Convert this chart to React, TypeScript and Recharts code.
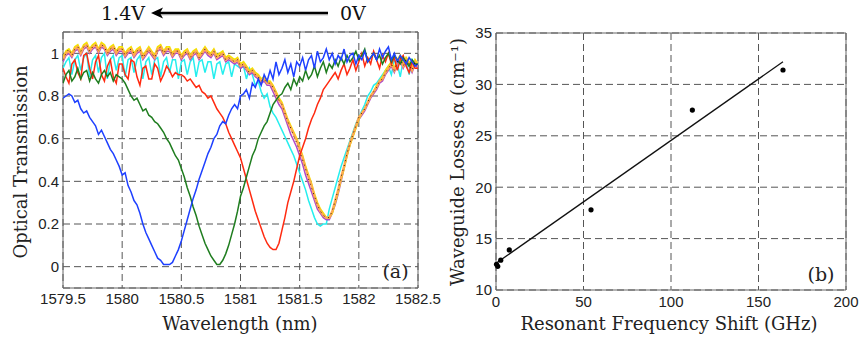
import React from 'react';
import {
  LineChart, Line, XAxis, YAxis, CartesianGrid, ReferenceArea,
  ScatterChart, Scatter,
} from 'recharts';

// ---------- Panel (a): optical transmission spectra ----------
const wavelength = [
  1579.5, 1579.525, 1579.55, 1579.575, 1579.6, 1579.625, 1579.65, 1579.675, 1579.7, 1579.725,
  1579.75, 1579.775, 1579.8, 1579.825, 1579.85, 1579.875, 1579.9, 1579.925, 1579.95, 1579.975,
  1580.0, 1580.025, 1580.05, 1580.075, 1580.1, 1580.125, 1580.15, 1580.175, 1580.2, 1580.225,
  1580.25, 1580.275, 1580.3, 1580.325, 1580.35, 1580.375, 1580.4, 1580.425, 1580.45, 1580.475,
  1580.5, 1580.525, 1580.55, 1580.575, 1580.6, 1580.625, 1580.65, 1580.675, 1580.7, 1580.725,
  1580.75, 1580.775, 1580.8, 1580.825, 1580.85, 1580.875, 1580.9, 1580.925, 1580.95, 1580.975,
  1581.0, 1581.025, 1581.05, 1581.075, 1581.1, 1581.125, 1581.15, 1581.175, 1581.2, 1581.225,
  1581.25, 1581.275, 1581.3, 1581.325, 1581.35, 1581.375, 1581.4, 1581.425, 1581.45, 1581.475,
  1581.5, 1581.525, 1581.55, 1581.575, 1581.6, 1581.625, 1581.65, 1581.675, 1581.7, 1581.725,
  1581.75, 1581.775, 1581.8, 1581.825, 1581.85, 1581.875, 1581.9, 1581.925, 1581.95, 1581.975,
  1582.0, 1582.025, 1582.05, 1582.075, 1582.1, 1582.125, 1582.15, 1582.175, 1582.2, 1582.225,
  1582.25, 1582.275, 1582.3, 1582.325, 1582.35, 1582.375, 1582.4, 1582.425, 1582.45, 1582.475,
  1582.5,
];

const blueT = [
  0.79, 0.80, 0.81, 0.80, 0.77, 0.78, 0.74, 0.72, 0.73, 0.70,
  0.68, 0.66, 0.62, 0.64, 0.61, 0.58, 0.55, 0.53, 0.50, 0.47,
  0.43, 0.44, 0.38, 0.35, 0.31, 0.29, 0.25, 0.20, 0.16, 0.13,
  0.10, 0.07, 0.04, 0.03, 0.01, 0.01, 0.01, 0.02, 0.05, 0.08,
  0.12, 0.17, 0.22, 0.27, 0.32, 0.36, 0.41, 0.45, 0.49, 0.53,
  0.56, 0.60, 0.62, 0.66, 0.68, 0.67, 0.71, 0.74, 0.76, 0.74,
  0.80, 0.81, 0.83, 0.79, 0.86, 0.84, 0.88, 0.85, 0.90, 0.87,
  0.92, 0.88, 0.96, 0.90, 0.93, 0.97, 0.91, 0.95, 0.89, 0.96,
  0.94, 0.98, 0.92, 0.97, 0.99, 0.93, 1.01, 0.96, 0.98, 1.02,
  0.97, 1.00, 0.95, 0.99, 0.97, 1.02, 0.96, 0.99, 1.00, 0.95,
  0.99, 0.97, 1.01, 0.96, 0.98, 1.00, 0.97, 1.02, 0.98, 1.01,
  1.03, 0.97, 1.00, 0.96, 0.99, 0.97, 0.95, 0.98, 0.96, 0.94,
  0.95,
];

const greenT = [
  0.86, 0.90, 0.92, 0.87, 0.89, 0.93, 0.88, 0.91, 0.92, 0.87,
  0.91, 0.88, 0.86, 0.90, 0.92, 0.89, 0.91, 0.87, 0.90, 0.89,
  0.88, 0.86, 0.83, 0.80, 0.78, 0.79, 0.76, 0.73, 0.74, 0.71,
  0.70, 0.68, 0.67, 0.65, 0.63, 0.60, 0.58, 0.55, 0.52, 0.50,
  0.46, 0.42, 0.37, 0.33, 0.28, 0.24, 0.19, 0.15, 0.11, 0.08,
  0.05, 0.03, 0.01, 0.01, 0.03, 0.06, 0.10, 0.15, 0.20, 0.26,
  0.33, 0.37, 0.42, 0.47, 0.52, 0.55, 0.60, 0.63, 0.66, 0.68,
  0.72, 0.76, 0.78, 0.80, 0.81, 0.84, 0.86, 0.83, 0.88, 0.85,
  0.89, 0.87, 0.92, 0.88, 0.90, 0.94, 0.89, 0.93, 0.96, 0.91,
  0.95, 0.93, 0.97, 0.94, 0.98, 0.95, 0.99, 0.96, 0.98, 1.01,
  0.97, 0.99, 1.02, 0.96, 0.98, 1.00, 0.97, 0.99, 0.95, 0.98,
  1.00, 0.96, 0.99, 0.97, 0.95, 0.98, 0.96, 0.94, 0.97, 0.95,
  0.95,
];

const redT = [
  0.93, 0.89, 0.86, 0.95, 0.97, 0.91, 0.88, 0.99, 1.00, 0.93,
  0.88, 0.96, 0.99, 0.90, 0.87, 0.94, 0.97, 0.89, 0.86, 0.95,
  0.95, 0.90, 0.88, 0.97, 0.96, 0.89, 0.85, 0.93, 0.94, 0.88,
  0.88, 0.95, 0.93, 0.87, 0.90, 0.94, 0.92, 0.89, 0.91, 0.90,
  0.90, 0.89, 0.87, 0.88, 0.86, 0.84, 0.85, 0.82, 0.81, 0.79,
  0.80, 0.77, 0.74, 0.72, 0.70, 0.67, 0.63, 0.60, 0.57, 0.54,
  0.51, 0.46, 0.41, 0.36, 0.31, 0.26, 0.22, 0.18, 0.14, 0.11,
  0.09, 0.08, 0.08, 0.11, 0.17, 0.23, 0.30, 0.35, 0.40, 0.46,
  0.52, 0.56, 0.60, 0.65, 0.69, 0.72, 0.76, 0.79, 0.83, 0.85,
  0.87, 0.89, 0.91, 0.88, 0.92, 0.95, 0.90, 0.93, 0.97, 0.92,
  0.96, 1.00, 0.94, 0.98, 0.95, 1.01, 0.97, 0.93, 0.99, 0.96,
  1.00, 0.95, 0.98, 0.92, 0.97, 0.99, 0.94, 0.91, 0.96, 0.93,
  0.93,
];

const cyanT = [
  0.93, 0.96, 0.98, 0.90, 0.97, 0.99, 0.92, 0.98, 1.00, 0.89,
  0.97, 0.99, 0.91, 0.98, 1.00, 0.88, 0.97, 0.99, 0.92, 0.98,
  0.99, 0.89, 0.97, 0.98, 0.91, 0.97, 0.99, 0.88, 0.96, 0.98,
  0.90, 0.97, 0.98, 0.89, 0.96, 0.98, 0.91, 0.97, 0.97, 0.88,
  0.96, 0.97, 0.90, 0.96, 0.98, 0.89, 0.96, 0.97, 0.91, 0.96,
  0.96, 0.88, 0.95, 0.96, 0.90, 0.95, 0.96, 0.89, 0.95, 0.94,
  0.93, 0.94, 0.88, 0.93, 0.90, 0.85, 0.87, 0.82, 0.79, 0.81,
  0.75, 0.72, 0.70, 0.67, 0.64, 0.61, 0.58, 0.55, 0.52, 0.48,
  0.44, 0.40, 0.36, 0.31, 0.27, 0.23, 0.20, 0.19, 0.20, 0.20,
  0.27, 0.32, 0.37, 0.42, 0.47, 0.51, 0.55, 0.59, 0.63, 0.67,
  0.70, 0.73, 0.76, 0.80, 0.82, 0.85, 0.86, 0.88, 0.90, 0.92,
  0.94, 0.90, 0.97, 0.95, 0.89, 0.97, 0.96, 0.90, 0.97, 0.95,
  0.93,
];

const purpleT = [
  0.96, 0.99, 1.00, 0.98, 1.01, 1.02, 0.99, 1.02, 1.03, 1.00,
  1.02, 1.03, 1.00, 1.03, 1.02, 0.99, 1.01, 1.02, 0.99, 1.01,
  1.01, 0.98, 1.00, 1.01, 0.98, 1.00, 1.01, 0.97, 0.99, 1.01,
  0.99, 0.97, 1.01, 1.02, 0.99, 1.01, 1.01, 0.98, 1.00, 1.00,
  0.97, 0.99, 1.00, 0.97, 0.99, 1.00, 0.97, 0.99, 1.01, 0.99,
  0.98, 1.00, 0.97, 0.98, 0.99, 0.96, 0.97, 0.96, 0.95, 0.96,
  0.93, 0.94, 0.92, 0.90, 0.91, 0.89, 0.88, 0.86, 0.87, 0.85,
  0.85, 0.82, 0.79, 0.76, 0.74, 0.70, 0.66, 0.62, 0.59, 0.56,
  0.52, 0.48, 0.43, 0.39, 0.35, 0.31, 0.27, 0.25, 0.23, 0.22,
  0.22, 0.25, 0.29, 0.34, 0.40, 0.46, 0.52, 0.57, 0.61, 0.65,
  0.69, 0.71, 0.73, 0.76, 0.79, 0.81, 0.83, 0.86, 0.87, 0.90,
  0.92, 0.94, 0.91, 0.95, 0.97, 0.93, 0.96, 0.94, 0.91, 0.95,
  0.93,
];

const yellowT = [
  0.98, 1.01, 1.02, 1.00, 1.03, 1.04, 1.01, 1.04, 1.05, 1.02,
  1.04, 1.05, 1.02, 1.05, 1.04, 1.01, 1.03, 1.04, 1.01, 1.03,
  1.03, 1.00, 1.02, 1.03, 1.00, 1.02, 1.03, 0.99, 1.01, 1.03,
  1.01, 0.99, 1.03, 1.04, 1.01, 1.03, 1.03, 1.00, 1.02, 1.02,
  0.99, 1.01, 1.02, 0.99, 1.01, 1.02, 0.99, 1.01, 1.03, 1.01,
  1.00, 1.02, 0.99, 1.00, 1.01, 0.98, 0.99, 0.98, 0.97, 0.98,
  0.95, 0.96, 0.94, 0.92, 0.93, 0.91, 0.90, 0.88, 0.89, 0.87,
  0.87, 0.85, 0.82, 0.79, 0.77, 0.73, 0.69, 0.66, 0.63, 0.60,
  0.56, 0.52, 0.47, 0.43, 0.39, 0.34, 0.30, 0.27, 0.25, 0.23,
  0.23, 0.25, 0.30, 0.35, 0.41, 0.46, 0.52, 0.57, 0.61, 0.65,
  0.69, 0.72, 0.74, 0.77, 0.80, 0.82, 0.85, 0.87, 0.89, 0.92,
  0.94, 0.96, 0.93, 0.97, 0.99, 0.95, 0.98, 0.96, 0.93, 0.97,
  0.95,
];

const orangeT = [
  0.97, 1.00, 1.01, 0.99, 1.02, 1.03, 1.00, 1.03, 1.04, 1.01,
  1.03, 1.04, 1.01, 1.04, 1.03, 1.00, 1.02, 1.03, 1.00, 1.02,
  1.02, 0.99, 1.01, 1.02, 0.99, 1.01, 1.02, 0.98, 1.00, 1.02,
  1.00, 0.98, 1.02, 1.03, 1.00, 1.02, 1.02, 0.99, 1.01, 1.01,
  0.98, 1.00, 1.01, 0.98, 1.00, 1.01, 0.98, 1.00, 1.02, 1.00,
  0.99, 1.01, 0.98, 0.99, 1.00, 0.97, 0.98, 0.97, 0.96, 0.97,
  0.94, 0.95, 0.93, 0.91, 0.92, 0.90, 0.89, 0.87, 0.88, 0.86,
  0.86, 0.84, 0.81, 0.78, 0.76, 0.72, 0.68, 0.65, 0.62, 0.59,
  0.55, 0.51, 0.46, 0.42, 0.38, 0.33, 0.29, 0.26, 0.24, 0.23,
  0.23, 0.26, 0.31, 0.36, 0.42, 0.47, 0.53, 0.58, 0.62, 0.66,
  0.70, 0.72, 0.74, 0.77, 0.80, 0.82, 0.84, 0.87, 0.88, 0.91,
  0.93, 0.95, 0.92, 0.96, 0.98, 0.94, 0.97, 0.95, 0.92, 0.96,
  0.94,
];

const blackT = [
  0.97, 1.00, 1.02, 0.99, 1.02, 1.03, 1.01, 1.03, 1.04, 1.01,
  1.03, 1.04, 1.01, 1.04, 1.03, 1.00, 1.02, 1.03, 1.01, 1.02,
  1.02, 0.99, 1.01, 1.02, 1.00, 1.01, 1.02, 0.98, 1.00, 1.02,
  1.00, 0.98, 1.02, 1.03, 1.00, 1.02, 1.02, 0.99, 1.01, 1.01,
  0.98, 1.00, 1.01, 0.98, 1.00, 1.01, 0.98, 1.00, 1.02, 1.00,
  0.99, 1.01, 0.98, 0.99, 1.00, 0.97, 0.98, 0.97, 0.96, 0.97,
  0.94, 0.95, 0.93, 0.91, 0.92, 0.90, 0.89, 0.87, 0.88, 0.86,
  0.86, 0.84, 0.81, 0.78, 0.76, 0.72, 0.68, 0.65, 0.61, 0.58,
  0.54, 0.50, 0.46, 0.41, 0.37, 0.33, 0.29, 0.26, 0.24, 0.23,
  0.23, 0.26, 0.31, 0.36, 0.42, 0.47, 0.53, 0.58, 0.62, 0.66,
  0.70, 0.72, 0.74, 0.77, 0.80, 0.82, 0.84, 0.87, 0.88, 0.91,
  0.93, 0.95, 0.92, 0.96, 0.98, 0.94, 0.97, 0.95, 0.92, 0.96,
  0.94,
];

const xTicksA = [1579.5, 1580, 1580.5, 1581, 1581.5, 1582, 1582.5];
const yTicksA = [0, 0.2, 0.4, 0.6, 0.8, 1];

// ---------- Panel (b): losses vs frequency shift ----------
const shiftGHz = [0.3, 1.0, 2.7, 7.6, 54.3, 112.2, 164.0];
const lossesAlpha = [12.5, 12.3, 12.9, 13.9, 17.8, 27.5, 31.4];
const fitShift = [0, 164];
const fitAlpha = [12.6, 32.2];

const xTicksB = [0, 50, 100, 150, 200];
const yTicksB = [10, 15, 20, 25, 30, 35];

const spectra = wavelength.map((w, i) => ({
  w,
  blue: blueT[i],
  green: greenT[i],
  red: redT[i],
  cyan: cyanT[i],
  purple: purpleT[i],
  yellow: yellowT[i],
  orange: orangeT[i],
  black: blackT[i],
}));

const points = shiftGHz.map((x, i) => ({ x, y: lossesAlpha[i] }));
const fit = fitShift.map((x, i) => ({ x, y: fitAlpha[i] }));

const tickFont = { fontFamily: '"Liberation Sans", Arial, sans-serif', fontSize: 15, fill: '#222' };
const labelFont = '"DejaVu Serif", serif';

const seriesA = [
  { key: 'cyan', color: '#25eeee', w: 1.5 },
  { key: 'purple', color: '#b048c8', w: 1.5 },
  { key: 'yellow', color: '#f4e200', w: 1.8 },
  { key: 'orange', color: '#ffa850', w: 2.2 },
  { key: 'red', color: '#ff2a10', w: 1.5 },
  { key: 'green', color: '#1f7d1f', w: 1.5 },
  { key: 'blue', color: '#1e40ff', w: 1.5 },
];

export default function App() {
  return (
    <div style={{ position: 'absolute', left: 0, top: 0, width: 862, height: 343, background: '#fff', overflow: 'hidden' }}>
      <div style={{ position: 'absolute', left: 0, top: 0 }}>
        <LineChart width={450} height={343} data={spectra} margin={{ top: 32, right: 32, bottom: 25, left: 0 }}>
          <CartesianGrid stroke="#555" strokeDasharray="7 4" strokeWidth={1} />
          <XAxis dataKey="w" type="number" domain={[1579.5, 1582.5]} ticks={xTicksA} height={30}
            tickSize={0} tickMargin={5} axisLine={false} tick={tickFont} interval={0}
            allowDataOverflow />
          <YAxis type="number" domain={[-0.1, 1.1]} ticks={yTicksA} width={63}
            tickSize={0} tickMargin={4} axisLine={false} tick={tickFont} interval={0}
            allowDataOverflow />
          <ReferenceArea x1={1579.5} x2={1582.5} y1={-0.1} y2={1.1} fill="none" stroke="#666" strokeWidth={1} />
          {seriesA.map((s) => (
            <Line key={s.key} dataKey={s.key} type="linear" stroke={s.color} strokeWidth={s.w}
              dot={false} isAnimationActive={false} />
          ))}
          <Line dataKey="black" type="linear" stroke="#000" strokeWidth={0.8} strokeDasharray="1 4"
            dot={false} isAnimationActive={false} />
        </LineChart>
      </div>
      <div style={{ position: 'absolute', left: 430, top: 0 }}>
        <ScatterChart width={432} height={343} margin={{ top: 33, right: 16, bottom: 25, left: 0 }}>
          <CartesianGrid stroke="#555" strokeDasharray="7 4" strokeWidth={1} />
          <XAxis dataKey="x" type="number" domain={[0, 200]} ticks={xTicksB} height={28}
            tickSize={0} tickMargin={6} axisLine={false} tick={tickFont} interval={0} />
          <YAxis dataKey="y" type="number" domain={[10, 35]} ticks={yTicksB} width={66}
            tickSize={0} tickMargin={4} axisLine={false} tick={tickFont} interval={0} />
          <ReferenceArea x1={0} x2={200} y1={10} y2={35} fill="none" stroke="#666" strokeWidth={1} />
          <Scatter data={fit} line={{ stroke: '#111', strokeWidth: 1.3 }} lineType="joint"
            shape={() => <g />} isAnimationActive={false} />
          <Scatter data={points} fill="#000" isAnimationActive={false}
            shape={(p: any) => <circle cx={p.cx} cy={p.cy} r={2.6} fill="#000" />} />
        </ScatterChart>
      </div>
      <svg width={862} height={343} style={{ position: 'absolute', left: 0, top: 0, pointerEvents: 'none' }}>
        <text x={123} y={20} textAnchor="middle" fontFamily={labelFont} fontSize={19} fill="#111">1.4V</text>
        <line x1={160} y1={14.5} x2={328} y2={14.5} stroke="#999" strokeWidth={2.5} opacity={0.35} />
        <line x1={160} y1={13} x2={328} y2={13} stroke="#000" strokeWidth={2.5} />
        <path d="M151,13 L163,7.5 L160,13 L163,18.5 Z" fill="#000" />
        <text x={340} y={20} textAnchor="start" fontFamily={labelFont} fontSize={19} fill="#111">0V</text>
        <text x={240} y={330} textAnchor="middle" fontFamily={labelFont} fontSize={18} fill="#222">Wavelength (nm)</text>
        <text transform="translate(27,162) rotate(-90)" textAnchor="middle" fontFamily={labelFont} fontSize={18} fill="#222">Optical Transmission</text>
        <text x={395.5} y={278} textAnchor="middle" fontFamily={labelFont} fontSize={19} fill="#222">(a)</text>
        <text x={669} y={330} textAnchor="middle" fontFamily={labelFont} fontSize={18} fill="#222">Resonant Frequency Shift (GHz)</text>
        <text transform="translate(464,162) rotate(-90)" textAnchor="middle" fontFamily={labelFont} fontSize={18} fill="#222">Waveguide Losses α (cm⁻¹)</text>
        <text x={821} y={281} textAnchor="middle" fontFamily={labelFont} fontSize={19} fill="#222">(b)</text>
      </svg>
    </div>
  );
}
